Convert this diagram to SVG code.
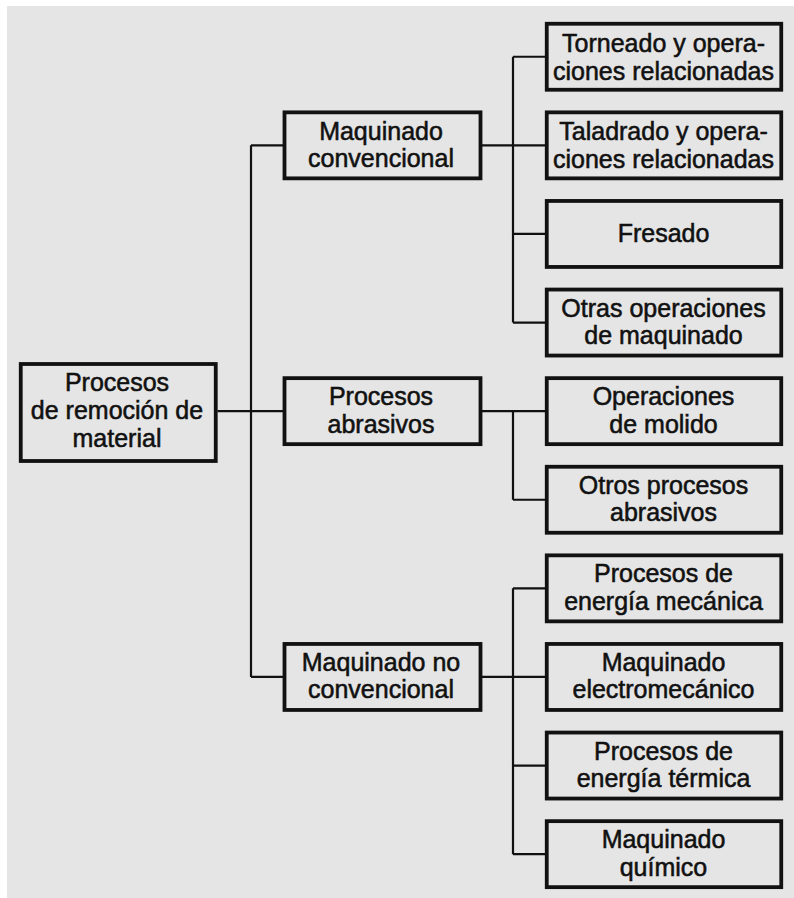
<svg xmlns="http://www.w3.org/2000/svg" width="794" height="898" viewBox="0 0 794 898">
<style>
  .box { fill: none; stroke: #111; stroke-width: 3.8; }
  .t { font-family: "Liberation Sans", Arial, Helvetica, sans-serif; font-size: 25px; fill: #111; stroke: #111; stroke-width: 0.55; text-anchor: middle; }
  .c { fill: none; stroke: #111; stroke-width: 2.2; }
</style>
<rect x="7" y="6" width="787" height="892" fill="#e5e5e5"/>
<g id="connectors">
  <path class="c" d="M217.5 411.15 H284.5"/>
  <path class="c" d="M251 145.35 V676.95 M251 145.35 H284.5 M251 676.95 H284.5"/>
  <path class="c" d="M482 145.35 H546.75 M513 56.75 V322.55 M513 56.75 H546.75 M513 233.95 H546.75 M513 322.55 H546.75"/>
  <path class="c" d="M482 411.15 H546.75 M513 411.15 V499.75 M513 499.75 H546.75"/>
  <path class="c" d="M482 676.95 H546.75 M513 588.35 V854.15 M513 588.35 H546.75 M513 765.55 H546.75 M513 854.15 H546.75"/>
</g>
<g id="root">
  <rect class="box" x="20.75" y="364" width="195" height="97"/>
  <text class="t" x="117" y="390.5">Procesos</text>
  <text class="t" x="117" y="418.5">de remoción de</text>
  <text class="t" x="117" y="446.5">material</text>
</g>
<g id="maq-conv">
  <rect class="box" x="284.5" y="112.35" width="196" height="66"/>
  <text class="t" x="381" y="139.5">Maquinado</text>
  <text class="t" x="381" y="167">convencional</text>
</g>
<g id="proc-abr">
  <rect class="box" x="284.5" y="378.15" width="196" height="66"/>
  <text class="t" x="381" y="405">Procesos</text>
  <text class="t" x="381" y="432.5">abrasivos</text>
</g>
<g id="maq-noconv">
  <rect class="box" x="284.5" y="643.95" width="196" height="66"/>
  <text class="t" x="381" y="670.7">Maquinado no</text>
  <text class="t" x="381" y="698">convencional</text>
</g>
<g id="torneado">
  <rect class="box" x="546.75" y="23.75" width="234.5" height="66"/>
  <text class="t" x="663.5" y="51.5">Torneado y opera-</text>
  <text class="t" x="663.5" y="80">ciones relacionadas</text>
</g>
<g id="taladrado">
  <rect class="box" x="546.75" y="112.35" width="234.5" height="66"/>
  <text class="t" x="663.5" y="140">Taladrado y opera-</text>
  <text class="t" x="663.5" y="168">ciones relacionadas</text>
</g>
<g id="fresado">
  <rect class="box" x="546.75" y="200.95" width="234.5" height="66"/>
  <text class="t" x="663.5" y="242">Fresado</text>
</g>
<g id="otras-maq">
  <rect class="box" x="546.75" y="289.55" width="234.5" height="66"/>
  <text class="t" x="663.5" y="316.5">Otras operaciones</text>
  <text class="t" x="663.5" y="344">de maquinado</text>
</g>
<g id="molido">
  <rect class="box" x="546.75" y="378.15" width="234.5" height="66"/>
  <text class="t" x="663.5" y="405">Operaciones</text>
  <text class="t" x="663.5" y="432.5">de molido</text>
</g>
<g id="otros-abr">
  <rect class="box" x="546.75" y="466.75" width="234.5" height="66"/>
  <text class="t" x="663.5" y="493.5">Otros procesos</text>
  <text class="t" x="663.5" y="521">abrasivos</text>
</g>
<g id="energia-mec">
  <rect class="box" x="546.75" y="555.35" width="234.5" height="66"/>
  <text class="t" x="663.5" y="582">Procesos de</text>
  <text class="t" x="663.5" y="609.5">energía mecánica</text>
</g>
<g id="electromec">
  <rect class="box" x="546.75" y="643.95" width="234.5" height="66"/>
  <text class="t" x="663.5" y="670.7">Maquinado</text>
  <text class="t" x="663.5" y="698">electromecánico</text>
</g>
<g id="energia-ter">
  <rect class="box" x="546.75" y="732.55" width="234.5" height="66"/>
  <text class="t" x="663.5" y="759.5">Procesos de</text>
  <text class="t" x="663.5" y="787">energía térmica</text>
</g>
<g id="quimico">
  <rect class="box" x="546.75" y="821.15" width="234.5" height="66"/>
  <text class="t" x="663.5" y="848">Maquinado</text>
  <text class="t" x="663.5" y="875.5">químico</text>
</g>
</svg>
